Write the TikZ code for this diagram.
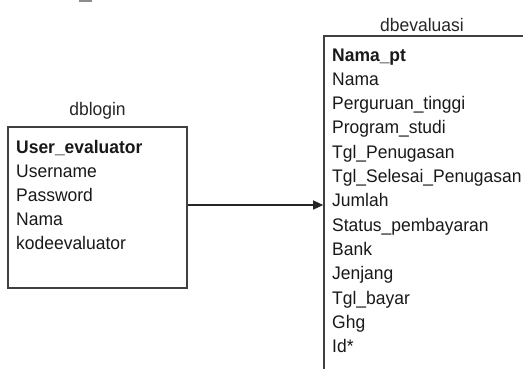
\documentclass[tikz,border=0pt]{standalone}
\usepackage{fontspec}
\setmainfont{Liberation Sans}
\usetikzlibrary{arrows.meta}
\begin{document}
\begin{tikzpicture}[x=1pt,y=-1pt,
  tablebox/.style={draw=black!75,line width=1.6pt,rectangle,inner sep=0pt},
  field/.style={anchor=base west,inner sep=0pt,text=black!90,xscale=0.96,transform shape,
    font=\fontsize{18.2}{20}\selectfont},
  keyfield/.style={field,font=\fontsize{18.2}{20}\selectfont\bfseries},
  title/.style={anchor=base,inner sep=0pt,text=black!85,xscale=0.96,transform shape,
    font=\fontsize{18.2}{20}\selectfont},
  link/.style={draw=black!85,line width=1.3pt,-{Triangle[length=10pt,width=9pt]}}]
\useasboundingbox (0,0) rectangle (523,368);
\clip (0,0) rectangle (523,368);
\fill[white] (0,0) rectangle (523,368);
% small grey mark on the top edge
\fill[black!45] (79,0) rectangle (92,1.5);

% dblogin table
\node[tablebox,minimum width=179pt,minimum height=161pt] (login) at (97.5,207.5) {};
\node[title] (logintitle) at (97.5,115) {dblogin};
\node[keyfield] (l0) at (16,153) {User\_evaluator};
\node[field] (l1) at (16,177) {Username};
\node[field] (l2) at (16,201) {Password};
\node[field] (l3) at (16,225) {Nama};
\node[field] (l4) at (16,249) {kodeevaluator};

% dbevaluasi table (runs past the right and bottom edges)
\node[tablebox,minimum width=226pt,minimum height=364pt] (eval) at (437,218) {};
\node[title] (evaltitle) at (422,31) {dbevaluasi};
\foreach \txt [count=\i from 0] in {Nama,Perguruan\_tinggi,Program\_studi,Tgl\_Penugasan,
  Tgl\_Selesai\_Penugasan,Jumlah,Status\_pembayaran,Bank,Jenjang,Tgl\_bayar,Ghg,Id*}
  \node[field] (e\i) at (332,{85.3+24.33*\i}) {\txt};
\node[keyfield] (ekey) at (332,61) {Nama\_pt};

% relation arrow
\coordinate (arrowy) at (0,205);
\draw[link] (login.east |- arrowy) -- (eval.west |- arrowy);
\end{tikzpicture}
\end{document}
